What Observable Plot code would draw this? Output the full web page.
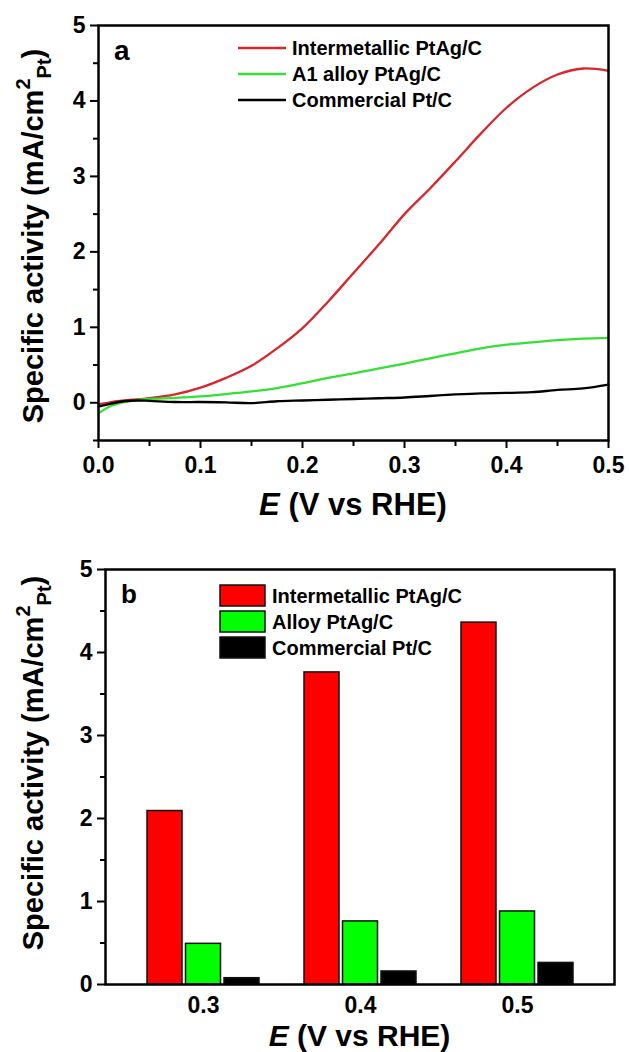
<!DOCTYPE html>
<html><head><meta charset="utf-8">
<script src="https://cdn.jsdelivr.net/npm/d3@7"></script>
<script src="https://cdn.jsdelivr.net/npm/@observablehq/plot@0.6"></script>
<style>
body{margin:0;background:#fff;}
#wrap{position:relative;width:629px;}
#wrap svg{display:block;}
#wrap svg g[aria-label$="tick label"], #wrap svg g[aria-label$="tick label"] text{font-size:23px !important;font-weight:bold;}
</style></head><body><div id="wrap"></div>
<script>
// ---------- data ----------
const potentials = [0, 0.0125, 0.025, 0.0375, 0.05, 0.075, 0.1, 0.125, 0.15, 0.175, 0.2, 0.225, 0.25, 0.275, 0.3, 0.325, 0.35, 0.375, 0.4, 0.425, 0.45, 0.475, 0.5];
const intermetallicCurve = [-0.02, 0.01, 0.03, 0.045, 0.06, 0.11, 0.20, 0.33, 0.49, 0.72, 0.99, 1.34, 1.72, 2.10, 2.50, 2.84, 3.20, 3.57, 3.91, 4.17, 4.35, 4.43, 4.40];
const alloyCurve = [-0.14, -0.04, 0.01, 0.035, 0.05, 0.065, 0.085, 0.115, 0.15, 0.195, 0.26, 0.33, 0.39, 0.455, 0.52, 0.59, 0.655, 0.72, 0.77, 0.80, 0.83, 0.85, 0.86];
const commercialCurve = [-0.05, -0.01, 0.02, 0.03, 0.025, 0.01, 0.01, 0.005, -0.005, 0.02, 0.03, 0.04, 0.05, 0.06, 0.07, 0.09, 0.11, 0.125, 0.13, 0.14, 0.17, 0.19, 0.24];
const lineSeries = ["Intermetallic PtAg/C", "A1 alloy PtAg/C", "Commercial Pt/C"];
const lineColors = ["#d8262a", "#33e033", "#000000"];

const barPotentials = ["0.3", "0.4", "0.5"];
const barSeries = ["Intermetallic PtAg/C", "Alloy PtAg/C", "Commercial Pt/C"];
const barColors = ["#ff0000", "#00ff00", "#000000"];
const barIntermetallic = [2.09, 3.76, 4.36];
const barAlloy = [0.49, 0.76, 0.88];
const barCommercial = [0.076, 0.157, 0.26];

const yMajorTicks = [0, 1, 2, 3, 4, 5];
const yMinorTicksA = [-0.5, 0.5, 1.5, 2.5, 3.5, 4.5];
const yMinorTicksB = [0.5, 1.5, 2.5, 3.5, 4.5];
const xMajorTicksA = [0, 0.1, 0.2, 0.3, 0.4, 0.5];
const xMinorTicksA = [0.05, 0.15, 0.25, 0.35, 0.45];

// ---------- tables ----------
const curves = [intermetallicCurve, alloyCurve, commercialCurve];
const lineData = [];
lineSeries.forEach((s, k) => potentials.forEach((e, i) => lineData.push({E: e, v: curves[k][i], series: s})));
const bars = [barIntermetallic, barAlloy, barCommercial];
const barTables = barSeries.map((s, k) => barPotentials.map((p, i) => ({E: p, series: s, v: bars[k][i]})));

const FONT = "'Liberation Sans', Arial, Helvetica, sans-serif";
const baseStyle = {fontFamily: FONT, fontSize: "23px", fontWeight: "bold", background: "white", color: "black", overflow: "visible"};
const blank = () => "";
const tickFont = {fontSize: 23, fontWeight: "bold", fontFamily: FONT};

// ---------- panel a ----------
const A = {width: 629, height: 530, ml: 98, mr: 21, mt: 25, mb: 90};
const plotA = Plot.plot({
  width: A.width, height: A.height,
  marginLeft: A.ml, marginRight: A.mr, marginTop: A.mt, marginBottom: A.mb,
  style: baseStyle,
  x: {domain: [0, 0.5]},
  y: {domain: [-0.5, 5]},
  color: {domain: lineSeries, range: lineColors},
  marks: [
    Plot.axisY({ticks: yMajorTicks, tickSize: 8, tickPadding: 5, tickFormat: d3.format("d"), label: null, strokeWidth: 2, ...tickFont}),
    Plot.axisY({ticks: yMinorTicksA, tickSize: 5, tickFormat: blank, label: null, strokeWidth: 2}),
    Plot.axisX({ticks: xMajorTicksA, tickSize: 8, tickPadding: 8, tickFormat: d3.format(".1f"), label: null, strokeWidth: 2, ...tickFont}),
    Plot.axisX({ticks: xMinorTicksA, tickSize: 6, tickFormat: blank, label: null, strokeWidth: 2}),
    Plot.line(lineData, {x: "E", y: "v", z: "series", stroke: "series", strokeWidth: 2.3, curve: "catmull-rom"}),
    Plot.frame({stroke: "black", strokeWidth: 2.5})
  ]
});

// ---------- panel b ----------
const B = {width: 629, height: 522, ml: 105, mr: 15, mt: 39, mb: 68};
const groupW = 112, barW = 35;
const plotB = Plot.plot({
  width: B.width, height: B.height,
  marginLeft: B.ml, marginRight: B.mr, marginTop: B.mt, marginBottom: B.mb,
  style: baseStyle,
  x: {type: "band", domain: barPotentials, paddingInner: 0.289, paddingOuter: 0.26},
  y: {domain: [0, 5]},
  color: {domain: barSeries, range: barColors},
  marks: [
    ...barTables.map((tbl, k) => Plot.barY(tbl, {
      x: "E", y: "v", fill: "series", stroke: "#111", strokeWidth: 1.5,
      insetLeft: k * (groupW - barW) / 2, insetRight: (2 - k) * (groupW - barW) / 2
    })),
    Plot.axisY({ticks: yMajorTicks, tickSize: 8, tickPadding: 5, tickFormat: d3.format("d"), label: null, strokeWidth: 2, ...tickFont}),
    Plot.axisY({ticks: yMinorTicksB, tickSize: 5, tickFormat: blank, label: null, strokeWidth: 2}),
    Plot.axisX({tickSize: 0, tickPadding: 12, label: null, ...tickFont}),
    Plot.frame({stroke: "black", strokeWidth: 2.5})
  ]
});

const wrap = document.getElementById("wrap");
wrap.appendChild(plotA);
wrap.appendChild(plotB);

// ---------- decorations (labels, legends) ----------
function richText(svg, parts, attrs) {
  const t = d3.select(svg).append("text")
    .attr("font-family", FONT).attr("font-weight", "bold").attr("fill", "black").attr("text-anchor", "start");
  for (const [k, v] of Object.entries(attrs)) t.attr(k, v);
  for (const p of parts) {
    const s = t.append("tspan").text(p.t);
    if (p.dy) s.attr("dy", p.dy);
    if (p.size) s.attr("font-size", p.size);
    if (p.italic) s.attr("font-style", "italic");
  }
  return t;
}
function yLabel(svg, cx, cy) {
  richText(svg, [
    {t: "Specific activity (mA/cm"},
    {t: "2", dy: -13, size: 20},
    {t: "Pt", dy: 21, size: 20},
    {t: ")", dy: -8, size: 29}
  ], {transform: `translate(${cx},${cy}) rotate(-90)`, "text-anchor": "middle", "font-size": 29});
}
function xLabel(svg, cx, y, size) {
  richText(svg, [{t: "E", italic: true}, {t: " (V vs RHE)"}],
    {x: cx, y: y, "text-anchor": "middle", "font-size": size});
}
function legendText(g, x, y, s) {
  g.append("text").attr("x", x).attr("y", y).attr("font-size", 20).attr("text-anchor", "start")
    .attr("font-family", FONT).attr("font-weight", "bold").attr("fill", "black").text(s);
}

// panel a
{
  const svg = plotA;
  yLabel(svg, 43, 236);
  xLabel(svg, A.ml + (A.width - A.ml - A.mr) / 2, 515, 31);
  richText(svg, [{t: "a"}], {x: 114, y: 60, "font-size": 28});
  const g = d3.select(svg).append("g");
  lineSeries.forEach((s, i) => {
    const y = 48 + i * 26;
    g.append("line").attr("x1", 238).attr("x2", 286).attr("y1", y).attr("y2", y)
      .attr("stroke", lineColors[i]).attr("stroke-width", 2.3);
    legendText(g, 292, y + 7, s);
  });
}
// panel b
{
  const svg = plotB;
  yLabel(svg, 43, 233);
  xLabel(svg, B.ml + (B.width - B.ml - B.mr) / 2, 515.5, 30);
  richText(svg, [{t: "b"}], {x: 121, y: 73, "font-size": 26});
  const g = d3.select(svg).append("g");
  barSeries.forEach((s, i) => {
    const y = 55 + i * 26;
    g.append("rect").attr("x", 220).attr("y", y).attr("width", 45).attr("height", 21)
      .attr("fill", barColors[i]).attr("stroke", "#111").attr("stroke-width", 1.5);
    legendText(g, 272, y + 18, s);
  });
}
</script>
</body></html>
